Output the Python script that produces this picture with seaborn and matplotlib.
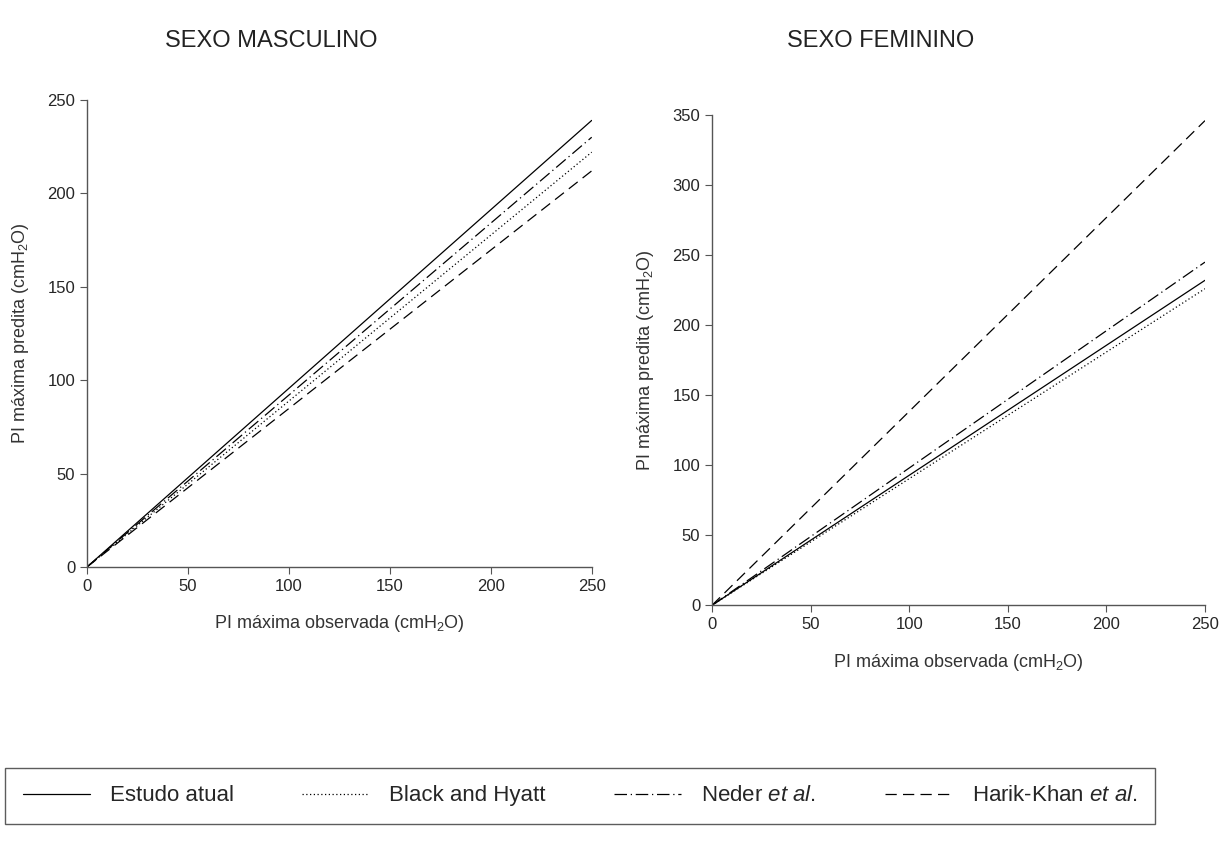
import matplotlib
matplotlib.use("Agg")
import matplotlib.pyplot as plt
import pandas as pd
import seaborn as sns

OBS = [0, 250]
EQUATIONS = ["Estudo atual", "Black and Hyatt", "Neder et al.", "Harik-Khan et al."]
LEGEND_LABELS = ["Estudo atual", "Black and Hyatt",
                 r"Neder $\mathit{et\ al.}$", r"Harik-Khan $\mathit{et\ al.}$"]
MALE_PRED = {
    "Estudo atual": [0, 239],
    "Black and Hyatt": [0, 222],
    "Neder et al.": [0, 230],
    "Harik-Khan et al.": [0, 212],
}
FEMALE_PRED = {
    "Estudo atual": [0, 232],
    "Black and Hyatt": [0, 226],
    "Neder et al.": [0, 245],
    "Harik-Khan et al.": [0, 346],
}
MALE_YTICKS = [0, 50, 100, 150, 200, 250]
FEMALE_YTICKS = [0, 50, 100, 150, 200, 250, 300, 350]
XTICKS = [0, 50, 100, 150, 200, 250]

DASHES = {
    "Estudo atual": "",
    "Black and Hyatt": (1, 2),
    "Neder et al.": (10, 3, 1, 3),
    "Harik-Khan et al.": (9, 5),
}

sns.set_style("white")
plt.rcParams["font.family"] = ["Liberation Sans", "DejaVu Sans"]
plt.rcParams["mathtext.fontset"] = "custom"
plt.rcParams["mathtext.rm"] = "Liberation Sans"
plt.rcParams["mathtext.it"] = "Liberation Sans:italic"


def long_form(pred):
    rows = []
    for eq in EQUATIONS:
        for x, y in zip(OBS, pred[eq]):
            rows.append({"obs": x, "pred": y, "eq": eq})
    return pd.DataFrame(rows)


def draw_panel(ax, pred, yticks):
    sns.lineplot(data=long_form(pred), x="obs", y="pred", style="eq",
                 style_order=EQUATIONS, dashes=DASHES, color="black",
                 linewidth=0.9, ax=ax, legend=False)
    ax.set_xlim(0, 250)
    ax.set_ylim(0, yticks[-1])
    ax.set_xticks(XTICKS)
    ax.set_yticks(yticks)
    sns.despine(ax=ax)
    for side in ["left", "bottom"]:
        ax.spines[side].set_color("#555555")
        ax.spines[side].set_linewidth(1.0)
    ax.tick_params(direction="out", length=5, width=0.8, color="#555555",
                   labelsize=12, bottom=True, left=True)
    ax.set_xlabel("PI máxima observada (cmH$_2$O)", fontsize=13, color="#333333",
                  labelpad=14)
    ax.set_ylabel("PI máxima predita (cmH$_2$O)", fontsize=13, color="#333333",
                  labelpad=12)


fig = plt.figure(figsize=(12.2, 8.61), dpi=100)
ax_m = fig.add_axes([0.0713, 0.3415, 0.4137, 0.5425])
ax_f = fig.add_axes([0.5836, 0.297, 0.4041, 0.5694])

draw_panel(ax_m, MALE_PRED, MALE_YTICKS)
draw_panel(ax_f, FEMALE_PRED, FEMALE_YTICKS)

fig.text(0.222, 0.952, "SEXO MASCULINO", ha="center", va="center", fontsize=17,
         color="#222222")
fig.text(0.722, 0.952, "SEXO FEMININO", ha="center", va="center", fontsize=17,
         color="#222222")

handles = ax_m.get_lines()[:len(EQUATIONS)]
leg = fig.legend(handles, LEGEND_LABELS, loc="center", ncol=4,
                 bbox_to_anchor=(0.4754, 0.0755), frameon=True, fancybox=False,
                 edgecolor="#333333", handlelength=3.0,
                 columnspacing=3.1, handletextpad=0.9, borderpad=0.8,
                 prop={"size": 16})
leg.get_frame().set_linewidth(1.0)

fig.savefig("out.png", dpi=100)
